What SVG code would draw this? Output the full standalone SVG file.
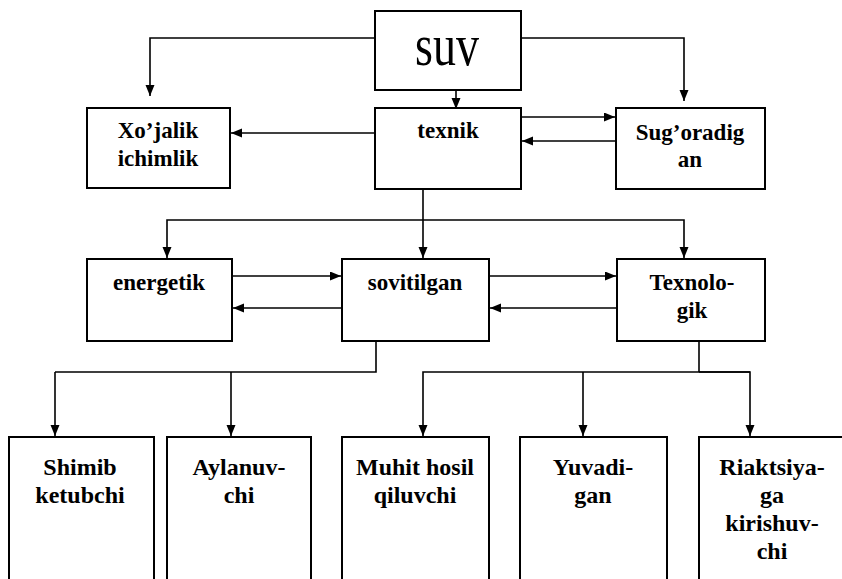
<svg xmlns="http://www.w3.org/2000/svg" width="842" height="579" viewBox="0 0 842 579">
<style>
.box{fill:#fff;stroke:#000;stroke-width:2}
.lbl{font-family:'Liberation Serif','DejaVu Serif','Times New Roman',serif;font-size:23px;font-weight:bold;text-anchor:middle;fill:#000}
.low{font-family:'Liberation Serif','DejaVu Serif','Times New Roman',serif;font-size:24px;font-weight:bold;text-anchor:middle;fill:#000}
.big{font-family:'Liberation Serif','DejaVu Serif','Times New Roman',serif;font-size:46px;text-anchor:middle;fill:#000}
.con{fill:none;stroke:#000;stroke-width:1.6}
.arr{marker-end:url(#ah)}
</style>
<defs>
<marker id="ah" markerUnits="userSpaceOnUse" markerWidth="12" markerHeight="10" refX="11" refY="4.5" orient="auto">
<path d="M0,0 L11,4.5 L0,9 z" fill="#000"/>
</marker>
</defs>
<rect width="842" height="579" fill="#fff"/>
<g id="connectors">
<polyline class="con arr" points="375,38 150,38 150,96"/>
<polyline class="con arr" points="521,38 684,38 684,101"/>
<line class="con arr" x1="456" y1="90" x2="456" y2="109"/>
<line class="con arr" x1="375" y1="133" x2="231" y2="133"/>
<line class="con arr" x1="521" y1="117" x2="615" y2="117"/>
<line class="con arr" x1="616" y1="141" x2="522" y2="141"/>
<polyline class="con" points="423,189 423,220"/>
<polyline class="con arr" points="423,220 167,220 167,258"/>
<line class="con arr" x1="423" y1="220" x2="423" y2="258"/>
<polyline class="con arr" points="423,220 684,220 684,258"/>
<line class="con arr" x1="232" y1="276" x2="341" y2="276"/>
<line class="con arr" x1="342" y1="308" x2="233" y2="308"/>
<line class="con arr" x1="489" y1="276" x2="616" y2="276"/>
<line class="con arr" x1="617" y1="308" x2="490" y2="308"/>
<polyline class="con" points="376,341 376,372 55,372"/>
<line class="con arr" x1="55" y1="372" x2="55" y2="436"/>
<line class="con arr" x1="231" y1="372" x2="231" y2="436"/>
<polyline class="con" points="699,341 699,372"/>
<polyline class="con arr" points="750,372 423,372 423,436"/>
<polyline class="con arr" points="699,372 750,372 750,436"/>
<line class="con arr" x1="583" y1="372" x2="583" y2="436"/>
</g>
<g id="suv">
<rect class="box" x="375" y="11" width="146" height="79"/>
<text class="big" transform="translate(447,65) scale(1,1.3)">suv</text>
</g>
<g id="xojalik">
<rect class="box" x="87" y="108" width="143" height="80"/>
<text class="lbl" x="158" y="138">Xo’jalik</text>
<text class="lbl" x="158" y="166">ichimlik</text>
</g>
<g id="texnik">
<rect class="box" x="375" y="108" width="146" height="81"/>
<text class="lbl" x="448" y="138">texnik</text>
</g>
<g id="sugoradigan">
<rect class="box" x="616" y="108" width="149" height="81"/>
<text class="lbl" x="690" y="140">Sug’oradig</text>
<text class="lbl" x="690" y="167">an</text>
</g>
<g id="energetik">
<rect class="box" x="87" y="259" width="145" height="82"/>
<text class="lbl" x="159" y="290">energetik</text>
</g>
<g id="sovitilgan">
<rect class="box" x="342" y="259" width="147" height="82"/>
<text class="lbl" x="415" y="290">sovitilgan</text>
</g>
<g id="texnologik">
<rect class="box" x="617" y="259" width="148" height="82"/>
<text class="lbl" x="692" y="290">Texnolo-</text>
<text class="lbl" x="692" y="318">gik</text>
</g>
<g id="shimib">
<rect class="box" x="9" y="437" width="145" height="150"/>
<text class="low" x="80" y="475">Shimib</text>
<text class="low" x="80" y="503">ketubchi</text>
</g>
<g id="aylanuvchi">
<rect class="box" x="167" y="437" width="144" height="150"/>
<text class="low" x="239" y="475">Aylanuv-</text>
<text class="low" x="239" y="503">chi</text>
</g>
<g id="muhit">
<rect class="box" x="342" y="437" width="147" height="150"/>
<text class="low" x="415" y="475">Muhit hosil</text>
<text class="low" x="415" y="503">qiluvchi</text>
</g>
<g id="yuvadigan">
<rect class="box" x="520" y="437" width="147" height="150"/>
<text class="low" x="593" y="475">Yuvadi-</text>
<text class="low" x="593" y="503">gan</text>
</g>
<g id="riaktsiya">
<rect class="box" x="699" y="437" width="150" height="150"/>
<text class="low" x="772" y="475">Riaktsiya-</text>
<text class="low" x="772" y="503">ga</text>
<text class="low" x="772" y="531">kirishuv-</text>
<text class="low" x="772" y="559">chi</text>
</g>
</svg>
